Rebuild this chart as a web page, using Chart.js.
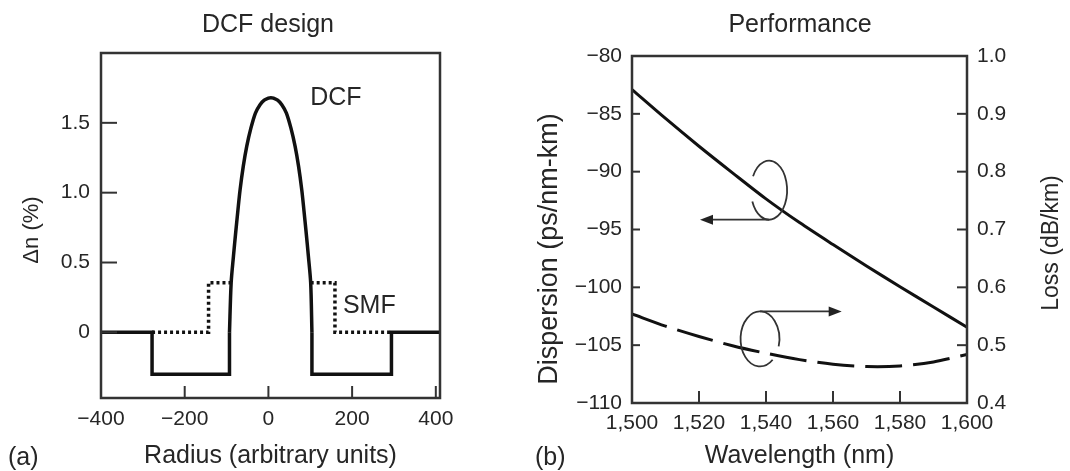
<!DOCTYPE html>
<html>
<head>
<meta charset="utf-8">
<script src="https://cdn.jsdelivr.net/npm/chart.js@4.4.1/dist/chart.umd.min.js"></script>
<style>
  html, body { margin: 0; padding: 0; background: #fff; }
  #wrap { position: relative; width: 1070px; height: 471px; }
  canvas { position: absolute; top: 0; }
  #dcf { left: 0; }
  #perf { left: 530px; }
</style>
</head>
<body>
<div id="wrap">
  <canvas id="dcf" width="530" height="471"></canvas>
  <canvas id="perf" width="540" height="471"></canvas>
</div>
<script>
// (a) DCF design - index profile
const dcfCoreRadius = [-93, -89, -83.5, -78, -73, -67.7, -60, -51.7, -42, -31, -20, -10, 0, 6, 12, 22, 32, 43, 54, 63.7, 72, 79.7, 85, 90, 95.5, 101, 104];
const dcfCoreIndex  = [0, 0.355, 0.546, 0.72, 0.87, 1.02, 1.19, 1.333, 1.46, 1.57, 1.63, 1.662, 1.677, 1.68, 1.677, 1.662, 1.63, 1.57, 1.46, 1.333, 1.19, 1.02, 0.87, 0.72, 0.546, 0.355, 0];
const dcfStepRadius = [-400, -278, -278, -93, -93, 0, 104, 104, 294, 294, 410];
const dcfStepIndex  = [0, 0, -0.3, -0.3, 0, null, 0, -0.3, -0.3, 0, 0];
const smfRadius = [-278, -143, -143, -89, 0, 101, 159, 159, 294];
const smfIndex  = [0, 0, 0.355, 0.355, null, 0.355, 0.355, 0, 0];
const radiusTicks = [-400, -200, 0, 200, 400];
const radiusTickLabels = ['\u2212400', '\u2212200', '0', '200', '400'];
const indexTicks = [0, 0.5, 1.0, 1.5];
const indexTickLabels = ['0', '0.5', '1.0', '1.5'];

// (b) Performance
const wavelength = [1500, 1510, 1520, 1530, 1540, 1550, 1560, 1570, 1580, 1590, 1600];
const dispersion = [-82.9, -85.4, -87.8, -90.1, -92.35, -94.4, -96.3, -98.15, -99.95, -101.7, -103.45];
const loss       = [0.554, 0.533, 0.515, 0.499, 0.486, 0.475, 0.467, 0.463, 0.464, 0.471, 0.484];
const wavelengthTicks = [1500, 1520, 1540, 1560, 1580, 1600];
const wavelengthTickLabels = ['1,500', '1,520', '1,540', '1,560', '1,580', '1,600'];
const dispersionTicks = [-110, -105, -100, -95, -90, -85, -80];
const dispersionTickLabels = ['\u2212110', '\u2212105', '\u2212100', '\u221295', '\u221290', '\u221285', '\u221280'];
const lossTicks = [0.4, 0.5, 0.6, 0.7, 0.8, 0.9, 1.0];
const lossTickLabels = ['0.4', '0.5', '0.6', '0.7', '0.8', '0.9', '1.0'];

const FONT = '"Liberation Sans", Arial, Helvetica, sans-serif';
const INK = '#111';
const TEXT = '#262626';

Chart.defaults.font.family = FONT;
Chart.defaults.color = TEXT;

const pts = (xs, ys) => xs.map((x, i) => ({ x: x, y: ys[i] }));

function fixedTicks(values, labels, pad) {
  return {
    afterBuildTicks: s => { s.ticks = values.map(v => ({ value: v })); },
    ticks: { autoSkip: false, maxRotation: 0, padding: pad, font: { size: 21 }, callback: (v, i) => labels[i] }
  };
}

function drawLoop(ctx, scales, l) {
  const X = scales.x, Y = scales.y;
  const cx = X.getPixelForValue(l.cx), cy = Y.getPixelForValue(l.cy);
  const rx = Math.abs(X.getPixelForValue(l.cx + l.rx) - cx);
  const ry = Math.abs(Y.getPixelForValue(l.cy + l.ry) - cy);
  ctx.strokeStyle = '#333';
  ctx.fillStyle = '#222';
  ctx.lineWidth = 1.8;
  ctx.beginPath();
  ctx.ellipse(cx, cy, rx, ry, 0, l.from, l.to);
  ctx.stroke();
  const ly = l.side === 'top' ? cy - ry : cy + ry;
  const tx = X.getPixelForValue(l.tip);
  const dir = Math.sign(tx - cx);
  ctx.beginPath();
  ctx.moveTo(cx, ly);
  ctx.lineTo(tx - dir * 10, ly);
  ctx.stroke();
  ctx.beginPath();
  ctx.moveTo(tx, ly);
  ctx.lineTo(tx - dir * 13, ly - 5);
  ctx.lineTo(tx - dir * 13, ly + 5);
  ctx.closePath();
  ctx.fill();
}

// frame, inward ticks, loops and free text
function overlay(cfg) {
  return {
    id: 'overlay',
    afterDatasetsDraw(chart) {
      const { ctx, chartArea: a, scales } = chart;
      ctx.save();
      ctx.strokeStyle = '#333';
      ctx.lineWidth = 2.5;
      ctx.strokeRect(a.left, a.top, a.width, a.height);
      cfg.ticks.forEach(t => {
        const s = scales[t.axis];
        t.values.filter(v => v > s.min && v < s.max).forEach(v => {
          const p = s.getPixelForValue(v);
          ctx.lineWidth = 2;
          ctx.beginPath();
          if (s.isHorizontal()) { ctx.moveTo(p, a.bottom); ctx.lineTo(p, a.bottom - t.len); }
          else if (s.position === 'left') { ctx.moveTo(a.left, p); ctx.lineTo(a.left + t.len, p); }
          else { ctx.moveTo(a.right, p); ctx.lineTo(a.right - t.len, p); }
          ctx.stroke();
        });
      });
      (cfg.loops || []).forEach(l => drawLoop(ctx, scales, l));
      ctx.fillStyle = TEXT;
      cfg.texts.forEach(t => {
        let x = t.x, y = t.y;
        if (t.data) { x = scales.x.getPixelForValue(t.x); y = scales.y.getPixelForValue(t.y); }
        ctx.save();
        ctx.translate(x, y);
        if (t.rotate) ctx.rotate(t.rotate);
        ctx.font = (t.size || 25) + 'px ' + FONT;
        ctx.textAlign = t.align || 'center';
        ctx.textBaseline = t.baseline || 'middle';
        ctx.fillText(t.text, 0, 0);
        ctx.restore();
      });
      ctx.restore();
    }
  };
}

// left panel
new Chart(document.getElementById('dcf'), {
  type: 'line',
  data: {
    datasets: [
      { data: pts(dcfCoreRadius, dcfCoreIndex), borderColor: INK, borderWidth: 3.5, tension: 0.3, pointRadius: 0 },
      { data: pts(dcfStepRadius, dcfStepIndex), borderColor: INK, borderWidth: 3.5, pointRadius: 0 },
      { data: pts(smfRadius, smfIndex), borderColor: INK, borderWidth: 3.5, borderDash: [3, 3], pointRadius: 0 }
    ]
  },
  options: {
    responsive: false, animation: false, devicePixelRatio: 1,
    layout: { padding: { left: 0, right: 90, top: 53, bottom: 0 } },
    plugins: { legend: { display: false }, tooltip: { enabled: false } },
    scales: {
      x: Object.assign({
        type: 'linear', min: -400, max: 410,
        grid: { display: false, drawTicks: false }, border: { display: false },
        title: { display: true, text: 'Radius (arbitrary units)', font: { size: 25 }, padding: { top: 0, bottom: 0 } },
        afterFit: s => { s.height = 73; }
      }, fixedTicks(radiusTicks, radiusTickLabels, 9)),
      y: Object.assign({
        type: 'linear', min: -0.47, max: 2.0,
        grid: { display: false, drawTicks: false }, border: { display: false },
        afterFit: s => { s.width = 101; }
      }, fixedTicks(indexTicks, indexTickLabels, 11))
    }
  },
  plugins: [overlay({
    ticks: [{ axis: 'x', values: radiusTicks, len: 12 }, { axis: 'y', values: indexTicks, len: 16 }],
    texts: [
      { text: 'DCF design', x: 268, y: 25 },
      { text: '\u0394n (%)', x: 32, y: 230, rotate: -Math.PI / 2, size: 22 },
      { text: '(a)', x: 8, y: 465, align: 'left', baseline: 'alphabetic' },
      { text: 'DCF', x: 100, y: 1.68, data: true, align: 'left' },
      { text: 'SMF', x: 178, y: 0.19, data: true, align: 'left' }
    ]
  })]
});

// right panel
new Chart(document.getElementById('perf'), {
  type: 'line',
  data: {
    datasets: [
      { data: pts(wavelength, dispersion), yAxisID: 'y', borderColor: INK, borderWidth: 3, tension: 0.3, pointRadius: 0 },
      { data: pts(wavelength, loss), yAxisID: 'y2', borderColor: INK, borderWidth: 3, borderDash: [37, 11], tension: 0.3, pointRadius: 0 }
    ]
  },
  options: {
    responsive: false, animation: false, devicePixelRatio: 1,
    layout: { padding: { left: 0, right: 0, top: 56, bottom: 0 } },
    plugins: { legend: { display: false }, tooltip: { enabled: false } },
    scales: {
      x: Object.assign({
        type: 'linear', min: 1500, max: 1600,
        grid: { display: false, drawTicks: false }, border: { display: false },
        title: { display: true, text: 'Wavelength (nm)', font: { size: 25 }, padding: { top: 0, bottom: 0 } },
        afterFit: s => { s.height = 68; }
      }, fixedTicks(wavelengthTicks, wavelengthTickLabels, 8)),
      y: Object.assign({
        type: 'linear', position: 'left', min: -110, max: -80,
        grid: { display: false, drawTicks: false }, border: { display: false },
        afterFit: s => { s.width = 102; }
      }, fixedTicks(dispersionTicks, dispersionTickLabels, 10)),
      y2: Object.assign({
        type: 'linear', position: 'right', min: 0.4, max: 1.0,
        grid: { display: false, drawTicks: false }, border: { display: false },
        afterFit: s => { s.width = 103; }
      }, fixedTicks(lossTicks, lossTickLabels, 10))
    }
  },
  plugins: [overlay({
    ticks: [
      { axis: 'x', values: wavelengthTicks, len: 12 },
      { axis: 'y', values: dispersionTicks, len: 8 },
      { axis: 'y2', values: lossTicks, len: 10 }
    ],
    loops: [
      { cx: 1540.9, cy: -91.6, rx: 5.4, ry: 2.55, from: 3.63, to: 9.03, side: 'bottom', tip: 1520.3 },
      { cx: 1538.2, cy: -104.46, rx: 5.8, ry: 2.38, from: 0.86, to: 6.56, side: 'top', tip: 1562.6 }
    ],
    texts: [
      { text: 'Performance', x: 270, y: 25 },
      { text: 'Dispersion (ps/nm-km)', x: 20, y: 249, rotate: -Math.PI / 2, size: 27 },
      { text: 'Loss (dB/km)', x: 522, y: 243, rotate: -Math.PI / 2, size: 23 },
      { text: '(b)', x: 5, y: 465, align: 'left', baseline: 'alphabetic' }
    ]
  })]
});
</script>
</body>
</html>
